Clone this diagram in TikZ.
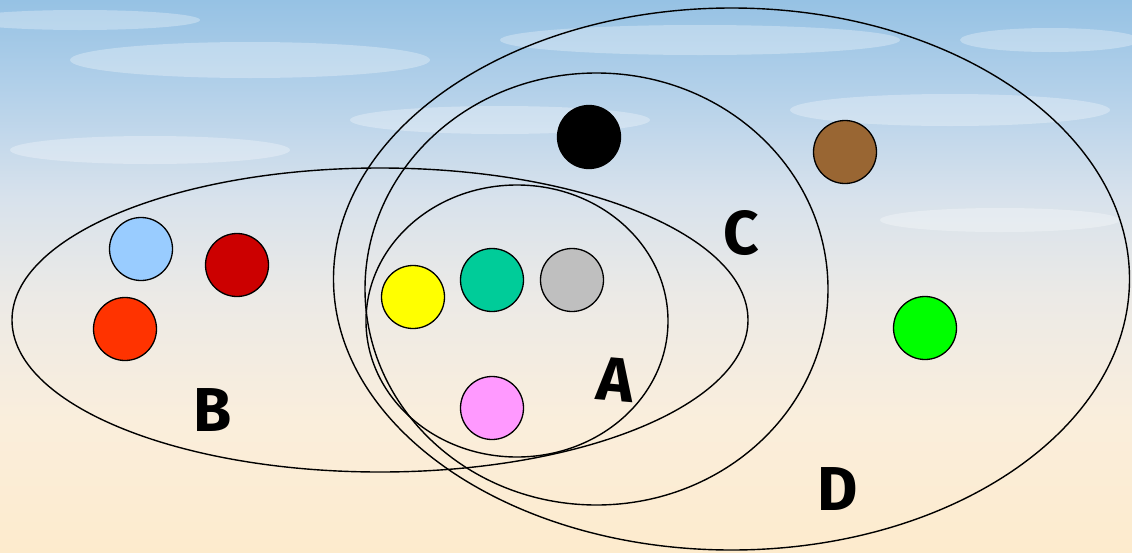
\documentclass[tikz,border=0pt]{standalone}
\usepackage{fontspec}
\newfontfamily\lblfont{Fira Sans}
\definecolor{sky0}{RGB}{150,194,228}
\definecolor{sky1}{RGB}{182,210,234}
\definecolor{sky2}{RGB}{216,226,236}
\definecolor{sky3}{RGB}{236,234,230}
\definecolor{sky4}{RGB}{250,238,220}
\definecolor{sky5}{RGB}{253,235,205}
\definecolor{cLightBlue}{HTML}{99CCFF}
\definecolor{cDarkRed}{HTML}{CC0000}
\definecolor{cOrange}{HTML}{FF3300}
\definecolor{cBrown}{HTML}{996633}
\definecolor{cYellow}{HTML}{FFFF00}
\definecolor{cTeal}{HTML}{00CC99}
\definecolor{cGray}{HTML}{BFBFBF}
\definecolor{cPink}{HTML}{FF99FF}
\definecolor{cGreen}{HTML}{00FF00}
\pgfdeclareverticalshading{sky}{100bp}{color(0bp)=(sky5); color(25bp)=(sky5); color(37bp)=(sky4); color(48bp)=(sky3); color(57bp)=(sky2); color(66bp)=(sky1); color(75bp)=(sky0); color(100bp)=(sky0)}
\tikzset{
  setline/.style={draw=black, line width=1.4pt},
  elem/.style={circle, draw=black, line width=1.3pt, minimum size=63pt, inner sep=0pt},
  setlabel/.style={font=\lblfont\bfseries\fontsize{62}{62}\selectfont, inner sep=0pt}
}
\begin{document}
\begin{tikzpicture}[x=1pt,y=-1pt]
\useasboundingbox (0,0) rectangle (1132,552);
\shade[shading=sky] (0,0) rectangle (1132,552);
% faint clouds
\begin{scope}[white, opacity=0.3]
\fill (250,60) ellipse (180 and 18);
\fill (700,40) ellipse (200 and 15);
\fill (950,110) ellipse (160 and 16);
\fill (150,150) ellipse (140 and 14);
\fill (500,120) ellipse (150 and 14);
\fill (1000,220) ellipse (120 and 12);
\fill (80,20) ellipse (120 and 10);
\fill (1050,40) ellipse (90 and 12);
\end{scope}
% sets
\draw[setline] (731.5,279) ellipse (398 and 271);
\draw[setline] (596.5,289) ellipse (231.5 and 216);
\draw[setline] (380,320) ellipse (368 and 152);
\draw[setline] (517,321) ellipse (151 and 136);
% elements
\node[elem, fill=black] (e1) at (589,137) {};
\node[elem, fill=cBrown] (e2) at (845,152) {};
\node[elem, fill=cLightBlue] (e3) at (141,249) {};
\node[elem, fill=cDarkRed] (e4) at (237,265) {};
\node[elem, fill=cOrange] (e5) at (125,329) {};
\node[elem, fill=cYellow] (e6) at (413,297) {};
\node[elem, fill=cTeal] (e7) at (492,280) {};
\node[elem, fill=cGray] (e8) at (572,280) {};
\node[elem, fill=cPink] (e9) at (492,408) {};
\node[elem, fill=cGreen] (e10) at (925,328) {};
% labels
\node[setlabel] (lC) at (741,233) {C};
\node[setlabel, rotate=-5] (lA) at (616,380) {A};
\node[setlabel] (lB) at (213,410) {B};
\node[setlabel] (lD) at (838,489) {D};
\end{tikzpicture}
\end{document}
